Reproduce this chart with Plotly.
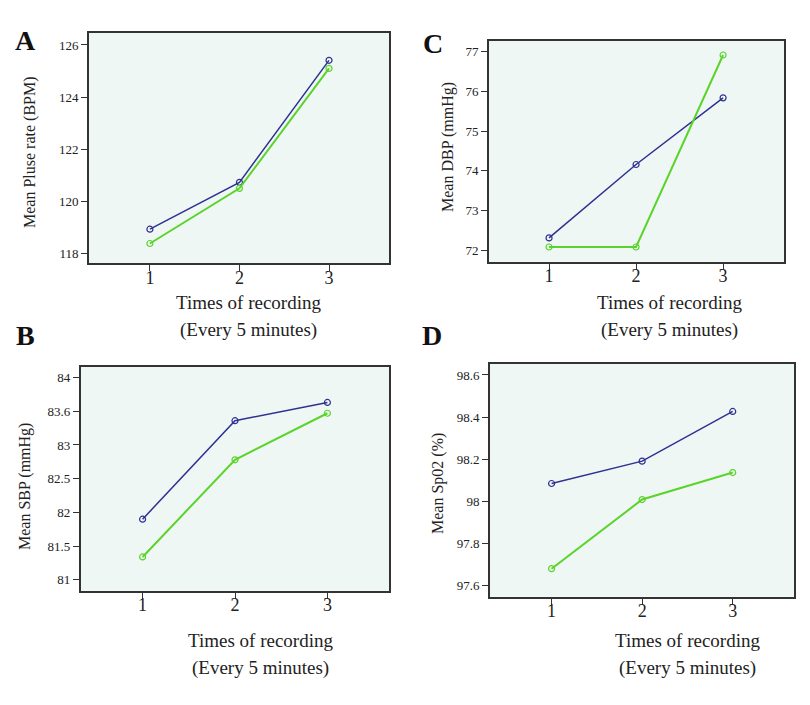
import plotly.graph_objects as go

times = [1, 2, 3]

# Panel A: Mean Pluse rate (BPM)
pulse_blue = [118.92, 120.72, 125.41]
pulse_green = [118.37, 120.49, 125.10]
# Panel B: Mean SBP (mmHg)
sbp_blue = [81.90, 83.36, 83.63]
sbp_green = [81.34, 82.78, 83.47]
sbp_tickvals = [81, 81.5, 82, 82.5, 83, 83.5, 84]
sbp_ticktext = ["81", "81.5", "82", "82.5", "83", "83.6", "84"]
# Panel C: Mean DBP (mmHg)
dbp_blue = [72.31, 74.16, 75.84]
dbp_green = [72.08, 72.08, 76.92]
# Panel D: Mean Sp02 (%)
spo2_blue = [98.085, 98.191, 98.427]
spo2_green = [97.681, 98.009, 98.137]

BLUE = "#2e3192"
GREEN = "#5ad42a"
FONT = "Liberation Serif"

# page body has an 8px margin; the figure is sized to fit inside it
OFF = 8
W, H = 810 - 2 * OFF, 705 - 2 * OFF


def px(x):
    return (x - OFF) / W


def py(y):
    return 1 - (y - OFF) / H


panels = [
    # key, blue, green, x px span, y px span (top, bottom), yrange, tickvals, ticktext, xrange
    ("A", pulse_blue, pulse_green, (89, 389), (33, 263),
     [117.62, 126.46], [118, 120, 122, 124, 126], None, [0.32, 3.67]),
    ("C", dbp_blue, dbp_green, (489, 784), (40.7, 261.7),
     [71.71, 77.28], [72, 73, 74, 75, 76, 77], None, [0.31, 3.70]),
    ("B", sbp_blue, sbp_green, (80.7, 389.3), (366.7, 590.7),
     [80.84, 84.16], sbp_tickvals, sbp_ticktext, [0.33, 3.67]),
    ("D", spo2_blue, spo2_green, (490, 794.3), (364, 596.7),
     [97.548, 98.652], [97.6, 97.8, 98.0, 98.2, 98.4, 98.6],
     ["97.6", "97.8", "98", "98.2", "98.4", "98.6"], [0.32, 3.68]),
]

fig = go.Figure()
layout = {}
for i, (key, b, g, xs, ys, yr, tv, tt, xr) in enumerate(panels, start=1):
    xa = "x" if i == 1 else f"x{i}"
    ya = "y" if i == 1 else f"y{i}"
    fig.add_trace(go.Scatter(x=times, y=b, mode="lines+markers", xaxis=xa, yaxis=ya,
                             line=dict(color=BLUE, width=1.5),
                             marker=dict(symbol="circle-open", size=6, color=BLUE, line=dict(width=1.2)),
                             showlegend=False))
    fig.add_trace(go.Scatter(x=times, y=g, mode="lines+markers", xaxis=xa, yaxis=ya,
                             line=dict(color=GREEN, width=2),
                             marker=dict(symbol="circle-open", size=6, color=GREEN, line=dict(width=1.2)),
                             showlegend=False))
    xname = "xaxis" if i == 1 else f"xaxis{i}"
    yname = "yaxis" if i == 1 else f"yaxis{i}"
    layout[xname] = dict(domain=[px(xs[0]), px(xs[1])], range=xr, anchor=ya, tickvals=times,
                         ticks="outside", ticklen=6, tickwidth=1.2, tickcolor="#333",
                         ticklabelstandoff=-9,
                         showline=True, mirror=True, linecolor="#333", linewidth=1.8,
                         showgrid=False, zeroline=False,
                         tickfont=dict(family=FONT, size=18, color="#222"))
    ydict = dict(domain=[py(ys[1]), py(ys[0])], range=yr, anchor=xa, tickvals=tv,
                 ticks="outside", ticklen=6, tickwidth=1.2, tickcolor="#333",
                 showline=True, mirror=True, linecolor="#333", linewidth=1.8,
                 showgrid=False, zeroline=False,
                 tickfont=dict(family=FONT, size=13, color="#222"))
    if tt is not None:
        ydict["ticktext"] = tt
    layout[yname] = ydict

fig.update_layout(**layout)

anns = []
# Panel letters
for txt, x, y in [("A", 25, 40), ("C", 433, 43), ("B", 25, 335), ("D", 432, 335)]:
    anns.append(dict(text=f"<b>{txt}</b>", x=px(x), y=py(y), xref="paper", yref="paper",
                     showarrow=False, xanchor="center", yanchor="middle",
                     font=dict(family=FONT, size=28, color="#111")))
# Y-axis titles
for txt, x, y in [("Mean Pluse rate (BPM)", 30, 152), ("Mean DBP (mmHg)", 448, 147),
                  ("Mean SBP (mmHg)", 25, 487), ("Mean Sp02 (%)", 438, 484)]:
    anns.append(dict(text=txt, x=px(x), y=py(y), xref="paper", yref="paper",
                     showarrow=False, xanchor="center", yanchor="middle", textangle=-90,
                     font=dict(family=FONT, size=16, color="#222")))
# X-axis titles
for cx, y1, y2 in [(248, 302, 330), (669, 302, 330), (260, 640, 668), (687, 640, 668)]:
    anns.append(dict(text="Times of recording", x=px(cx), y=py(y1), xref="paper", yref="paper",
                     showarrow=False, xanchor="center", yanchor="middle",
                     font=dict(family=FONT, size=19, color="#222")))
    anns.append(dict(text="(Every 5 minutes)", x=px(cx), y=py(y2), xref="paper", yref="paper",
                     showarrow=False, xanchor="center", yanchor="middle",
                     font=dict(family=FONT, size=19, color="#222")))

fig.update_layout(width=W, height=H, margin=dict(l=0, r=0, t=0, b=0),
                  paper_bgcolor="white", plot_bgcolor="#eff7f4",
                  annotations=anns, font=dict(family=FONT))

fig.write_html("out.html")
